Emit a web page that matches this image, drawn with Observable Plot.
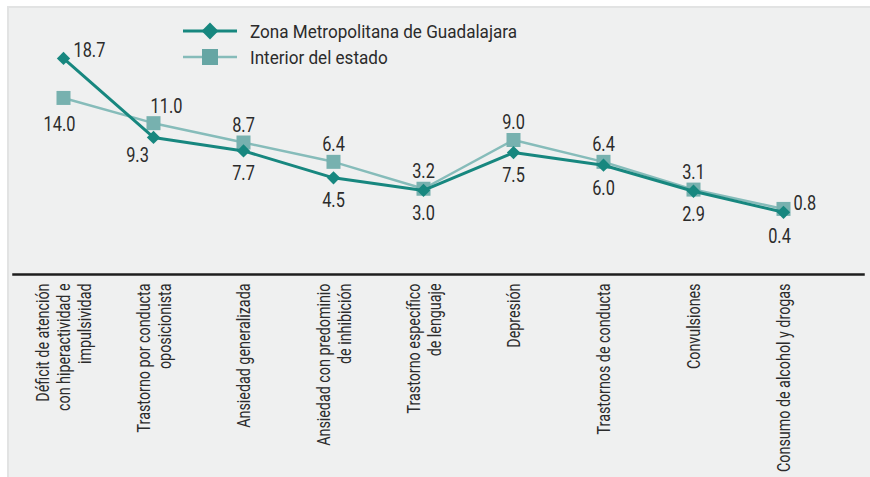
<!DOCTYPE html>
<html><head><meta charset="utf-8">
<script src="https://cdn.jsdelivr.net/npm/d3@7"></script>
<script src="https://cdn.jsdelivr.net/npm/@observablehq/plot@0.6"></script>
<style>
body{margin:0;background:#fff;width:870px;height:477px;overflow:hidden;position:relative;font-family:Roboto,sans-serif;}
#panel{position:absolute;left:7px;top:6px;width:863px;height:471px;background:#eff0f0;border-left:2px solid #e2e3e3;border-top:2px solid #e2e3e3;box-sizing:border-box;}
#chart{position:absolute;left:0;top:0;}
#legend{position:absolute;left:0;top:0;}
</style></head><body>
<div id="panel"></div>
<div id="chart"></div>
<svg id="legend" width="560" height="80"></svg>
<script>
const categories = [
  "Déficit de atención\ncon hiperactividad e\nimpulsividad",
  "Trastorno por conducta\noposicionista",
  "Ansiedad generalizada",
  "Ansiedad con predominio\nde inhibición",
  "Trastorno específico\nde lenguaje",
  "Depresión",
  "Trastornos de conducta",
  "Convulsiones",
  "Consumo de alcohol y drogas"
];
const seriesNames = ["Zona Metropolitana de Guadalajara", "Interior del estado"];
const zmgValues = [18.7, 9.3, 7.7, 4.5, 3.0, 7.5, 6.0, 2.9, 0.4];
const interiorValues = [14.0, 11.0, 8.7, 6.4, 3.2, 9.0, 6.4, 3.1, 0.8];

const dark = "#17877f", light = "#86bcba", sq = "#77b1af", txt = "#2b2b2b";
const font = 'Roboto, sans-serif';

const zmg = categories.map((c, i) => ({cat: c, value: zmgValues[i], series: seriesNames[0]}));
const interior = categories.map((c, i) => ({cat: c, value: interiorValues[i], series: seriesNames[1]}));

const first = categories[0], second = categories[1], last = categories[categories.length - 1];
const isMid = d => d.cat !== first && d.cat !== second && d.cat !== last;
const fmt = d => d.value.toFixed(1);
const lab = (data, opts) => Plot.text(data, {x: "cat", y: "value", text: fmt, fontSize: 19.7, fill: txt, ...opts});

const chart = Plot.plot({
  width: 870, height: 477,
  marginLeft: 13, marginRight: 7, marginTop: 47, marginBottom: 203,
  style: {background: "transparent", fontFamily: font, color: txt},
  x: {type: "point", domain: categories, range: [63.3, 783.3], padding: 0, axis: null},
  y: {domain: [-7, 20], axis: null},
  marks: [
    Plot.frame({anchor: "bottom", stroke: "#1e1e1e", strokeWidth: 2.5}),
    Plot.lineY(interior, {x: "cat", y: "value", stroke: light, strokeWidth: 2.5}),
    Plot.dot(interior, {x: "cat", y: "value", symbol: "square", r: 7.9, fill: sq, stroke: "none"}),
    Plot.lineY(zmg, {x: "cat", y: "value", stroke: dark, strokeWidth: 3}),
    Plot.dot(zmg, {x: "cat", y: "value", symbol: "diamond2", r: 6, fill: dark, stroke: "none"}),
    // value labels
    lab(interior, {filter: isMid, dy: -17}),
    lab(zmg, {filter: isMid, dy: 23}),
    lab(zmg, {filter: d => d.cat === first, textAnchor: "start", dx: 10, dy: -8}),
    lab(interior, {filter: d => d.cat === first, dx: -4, dy: 27}),
    lab(interior, {filter: d => d.cat === second, dx: 13, dy: -16}),
    lab(zmg, {filter: d => d.cat === second, dx: -16, dy: 18}),
    lab(interior, {filter: d => d.cat === last, textAnchor: "start", dx: 10, dy: -5}),
    lab(zmg, {filter: d => d.cat === last, dx: -4, dy: 24}),
    // category labels
    Plot.text(categories, {x: d => d, frameAnchor: "bottom", rotate: -90, textAnchor: "end",
      lineAnchor: "middle", lineHeight: 1.16, dy: 9, dx: 0, fontSize: 17.9, fill: txt})
  ]
});
// emulate a condensed typeface: squeeze glyphs along the reading direction
d3.select(chart).selectAll("text").attr("transform", function () {
  const t = this.getAttribute("transform") || "";
  return t + ` scale(${t.includes("rotate") ? 0.8 : 0.83},1)`;
});
document.getElementById("chart").appendChild(chart);

// legend
const lg = d3.select("#legend");
const rows = [
  {name: seriesNames[0], y: 31, stroke: dark, sw: 3, sym: "diamond"},
  {name: seriesNames[1], y: 57, stroke: light, sw: 2.5, sym: "square"}
];
rows.forEach(r => {
  lg.append("line").attr("x1", 183).attr("x2", 237).attr("y1", r.y).attr("y2", r.y)
    .attr("stroke", r.stroke).attr("stroke-width", r.sw);
  if (r.sym === "diamond") {
    lg.append("path").attr("d", d3.symbol(d3.symbolDiamond2, 180)()).attr("transform", `translate(210,${r.y})`).attr("fill", dark);
  } else {
    lg.append("rect").attr("x", 202).attr("y", r.y - 8).attr("width", 16).attr("height", 16).attr("fill", "#66a6a4");
  }
  lg.append("text").attr("transform", `translate(250,${r.y + 6.5}) scale(0.9,1)`).attr("font-size", 19).attr("fill", txt)
    .attr("font-family", font).text(r.name);
});
</script>
</body></html>
